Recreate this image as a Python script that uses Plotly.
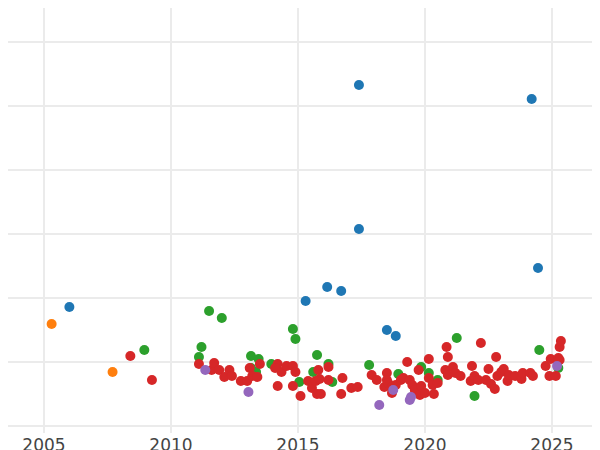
import plotly.graph_objects as go

blue_x = [2006.0, 2017.4, 2017.4, 2024.2, 2024.45, 2015.3, 2016.15, 2016.7, 2018.5, 2018.85]
blue_y = [118, 340, 196, 326, 157, 124, 138, 134, 95, 89]
orange_x = [2005.3, 2007.7]
orange_y = [101, 53]
green_x = [2008.95, 2011.1, 2011.2, 2011.5, 2012.0, 2013.15, 2013.45, 2013.15, 2013.35, 2013.95, 2014.8, 2014.9,
           2015.05, 2015.75, 2016.2, 2016.35, 2015.6, 2017.8, 2018.95, 2019.85, 2020.5, 2021.25, 2021.95, 2024.5,
           2025.25, 2020.15]
green_y = [75, 68, 78, 114, 107, 69, 66, 57, 53, 61, 96, 86, 43, 70, 61, 43, 53, 60, 51, 58, 45, 87, 29, 75, 57, 52]
red_x = [2008.4, 2009.25, 2011.1, 2011.6, 2011.7, 2011.9, 2012.1, 2012.3, 2012.4, 2012.75, 2013.0, 2013.1, 2013.2,
         2013.4, 2013.5, 2014.2, 2014.2, 2014.35, 2014.1, 2014.55, 2014.8, 2014.8, 2014.9, 2015.1, 2015.4, 2015.55,
         2015.7, 2015.75, 2015.8, 2015.9, 2015.85, 2016.2, 2016.2, 2016.75, 2016.7, 2017.1, 2017.35, 2017.9, 2018.1,
         2018.4, 2018.5, 2018.5, 2018.55, 2018.7, 2018.7, 2018.85, 2019.05, 2019.15, 2019.3, 2019.4, 2019.5, 2019.6,
         2019.75, 2019.8, 2019.85, 2020.0, 2020.15, 2020.15, 2020.3, 2020.35, 2020.5, 2020.8, 2020.85, 2020.9,
         2020.9, 2021.1, 2021.2, 2021.4, 2021.8, 2021.85, 2021.95, 2022.1, 2022.2, 2022.4, 2022.5, 2022.6, 2022.75,
         2022.8, 2022.85, 2023.0, 2023.1, 2023.25, 2023.3, 2023.55, 2023.8, 2023.85, 2024.15, 2024.25, 2024.75,
         2024.9, 2024.95, 2025.15, 2025.25, 2025.3, 2025.35, 2025.3]
red_y = [69, 45, 61, 55, 62, 55, 48, 55, 49, 44, 44, 57, 49, 48, 61, 61, 39, 53, 57, 59, 59, 39, 53, 29, 44, 37,
         44, 31, 55, 31, 46, 45, 58, 47, 31, 37, 38, 50, 45, 38, 52, 45, 42, 32, 38, 40, 45, 47, 63, 45, 40, 35,
         55, 30, 39, 32, 66, 47, 40, 31, 42, 55, 78, 68, 50, 58, 52, 49, 44, 59, 49, 45, 82, 45, 56, 41, 36, 68,
         49, 53, 56, 44, 50, 49, 46, 52, 52, 49, 59, 49, 66, 49, 67, 78, 84, 65]
purple_x = [2011.35, 2013.05, 2018.2, 2018.75, 2019.4, 2019.45, 2025.2]
purple_y = [55, 33, 20, 35, 25, 28, 59]

fig = go.Figure()
for xs, ys, c in [(blue_x, blue_y, "#1f77b4"), (orange_x, orange_y, "#ff7f0e"), (green_x, green_y, "#2ca02c"),
                  (red_x, red_y, "#d62728"), (purple_x, purple_y, "#9467bd")]:
    fig.add_trace(go.Scatter(x=xs, y=ys, mode="markers", marker=dict(color=c, size=10), showlegend=False))

fig.update_layout(
    width=600, height=450, template="plotly_white",
    margin=dict(l=0, r=0, t=0, b=25, pad=0, autoexpand=False),
    font=dict(family="DejaVu Sans", size=17, color="#444"),
    xaxis=dict(range=[2003.583, 2027.205], dtick=5, tick0=2005, showgrid=True, gridcolor="#ebebeb",
               gridwidth=2, zeroline=False, ticks="", automargin=False),
    yaxis=dict(range=[-8, 417], dtick=64, tick0=63, showticklabels=False, gridcolor="#ebebeb",
               gridwidth=2, zeroline=False, automargin=False),
)
fig.write_html("out.html")
